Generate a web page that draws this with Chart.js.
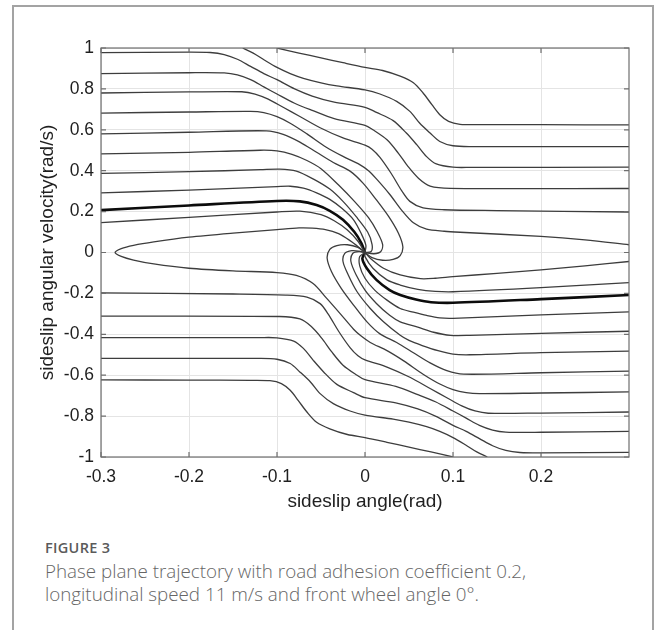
<!DOCTYPE html>
<html>
<head>
<meta charset="utf-8">
<script src="https://cdn.jsdelivr.net/npm/chart.js@4.4.1/dist/chart.umd.min.js"></script>
<style>
  body { margin: 0; background: #fff; width: 656px; height: 630px; overflow: hidden; position: relative; }
  .frame { position: absolute; left: 12px; top: 5px; width: 642px; height: 700px; border: 2px solid #a3a3a3; box-sizing: border-box; }
  #wrap { position: absolute; left: 0; top: 0; width: 656px; height: 530px; }
  .fig-no { position: absolute; left: 45px; top: 538px; font: 600 14.5px "Open Sans", sans-serif; color: #5a5a5a; letter-spacing: 0.3px; }
  .fig-cap { position: absolute; left: 45px; top: 560px; font: 300 18.8px "Open Sans", sans-serif; color: #666; line-height: 23px; white-space: nowrap; }
</style>
</head>
<body>
<div class="frame"></div>
<div id="wrap"><canvas id="phaseChart" width="656" height="530"></canvas></div>
<div class="fig-no">FIGURE 3</div>
<div class="fig-cap">Phase plane trajectory with road adhesion coefficient 0.2,<br>longitudinal speed 11 m/s and front wheel angle 0°.</div>
<script>
// ticks
const xTicks = [-0.3, -0.2, -0.1, 0, 0.1, 0.2];
const xTickLabels = ['-0.3', '-0.2', '-0.1', '0', '0.1', '0.2'];
const yTicks = [-1, -0.8, -0.6, -0.4, -0.2, 0, 0.2, 0.4, 0.6, 0.8, 1];
const yTickLabels = ['-1', '-0.8', '-0.6', '-0.4', '-0.2', '0', '0.2', '0.4', '0.6', '0.8', '1'];

// trayectorias [beta, r] - mitad superior
const trajU1 = [[-0.1,1.0],[-0.075,0.975],[-0.05,0.952],[-0.025,0.928],[0,0.905],[0.02,0.89],[0.04,0.862],[0.055,0.83],[0.066,0.78],[0.076,0.723],[0.085,0.674],[0.095,0.641],[0.108,0.627],[0.13,0.625],[0.2,0.625],[0.3,0.624]];
const trajU2 = [[-0.139,1.0],[-0.127,0.975],[-0.114,0.94],[-0.1,0.905],[-0.085,0.875],[-0.07,0.852],[-0.05,0.83],[-0.032,0.815],[0,0.795],[0.017,0.775],[0.036,0.739],[0.051,0.69],[0.062,0.633],[0.074,0.584],[0.085,0.543],[0.1,0.522],[0.12,0.518],[0.3,0.518]];
const trajU3 = [[-0.3,0.977],[-0.2,0.98],[-0.176,0.978],[-0.16,0.968],[-0.145,0.945],[-0.13,0.91],[-0.115,0.875],[-0.1,0.845],[-0.08,0.8],[-0.06,0.765],[-0.035,0.735],[0,0.71],[0.013,0.685],[0.032,0.645],[0.047,0.584],[0.059,0.526],[0.07,0.469],[0.081,0.433],[0.1,0.417],[0.12,0.416],[0.3,0.417]];
const trajU4 = [[-0.3,0.875],[-0.2,0.879],[-0.16,0.878],[-0.145,0.868],[-0.13,0.845],[-0.115,0.81],[-0.1,0.775],[-0.08,0.73],[-0.06,0.695],[-0.035,0.655],[0,0.622],[0.009,0.6],[0.025,0.551],[0.038,0.485],[0.049,0.42],[0.061,0.362],[0.074,0.325],[0.097,0.314],[0.3,0.313]];
const trajU5 = [[-0.3,0.78],[-0.2,0.785],[-0.14,0.786],[-0.125,0.775],[-0.11,0.75],[-0.093,0.71],[-0.074,0.665],[-0.051,0.61],[-0.025,0.56],[0,0.525],[0.008,0.505],[0.017,0.465],[0.03,0.385],[0.042,0.3],[0.051,0.25],[0.066,0.218],[0.09,0.209],[0.15,0.205],[0.3,0.198]];
const trajU6 = [[-0.3,0.682],[-0.2,0.687],[-0.13,0.69],[-0.115,0.684],[-0.1,0.664],[-0.085,0.632],[-0.066,0.58],[-0.044,0.515],[-0.025,0.47],[-0.006,0.43],[0.004,0.4],[0.013,0.36],[0.028,0.285],[0.042,0.205],[0.055,0.145],[0.07,0.114],[0.09,0.104],[0.108,0.099],[0.2,0.079],[0.25,0.062],[0.3,0.038]];
const trajU7 = [[-0.3,0.58],[-0.2,0.588],[-0.112,0.595],[-0.093,0.578],[-0.074,0.54],[-0.055,0.49],[-0.036,0.44],[-0.017,0.398],[-0.002,0.338],[0.013,0.257],[0.027,0.175],[0.038,0.094],[0.043,0.028],[0.04,-0.015],[0.032,-0.034],[0.02,-0.038],[0.008,-0.025],[0,0]];
const trajU8 = [[-0.3,0.482],[-0.2,0.49],[-0.119,0.5],[-0.1,0.497],[-0.083,0.48],[-0.066,0.45],[-0.05,0.41],[-0.03,0.33],[-0.012,0.25],[0.004,0.17],[0.014,0.1],[0.02,0.04],[0.018,0.005],[0.01,-0.006],[0,0]];
const trajU9 = [[-0.3,0.387],[-0.2,0.395],[-0.119,0.405],[-0.097,0.408],[-0.078,0.398],[-0.059,0.36],[-0.04,0.31],[-0.025,0.25],[-0.01,0.175],[0.003,0.1],[0.008,0.04],[0.007,0.005],[0,0]];
const trajU10 = [[-0.3,0.292],[-0.2,0.305],[-0.1,0.322],[-0.085,0.324],[-0.07,0.315],[-0.055,0.292],[-0.04,0.26],[-0.026,0.215],[-0.013,0.16],[-0.004,0.09],[0.001,0.035],[0,0]];
const trajU11 = [[-0.3,0.207],[-0.2,0.23],[-0.1,0.252],[-0.074,0.25],[-0.055,0.232],[-0.04,0.204],[-0.025,0.16],[-0.012,0.1],[-0.004,0.045],[0,0]];
const trajU12 = [[-0.3,0.146],[-0.2,0.172],[-0.1,0.198],[-0.074,0.202],[-0.05,0.185],[-0.035,0.155],[-0.02,0.11],[-0.008,0.055],[0,0]];

// mitad inferior
const trajL1 = [[0.1,-1.0],[0.075,-0.975],[0.05,-0.952],[0.025,-0.928],[0,-0.905],[-0.02,-0.89],[-0.04,-0.862],[-0.055,-0.83],[-0.066,-0.78],[-0.076,-0.723],[-0.085,-0.674],[-0.095,-0.641],[-0.108,-0.627],[-0.13,-0.625],[-0.2,-0.624],[-0.3,-0.623]];
const trajL2 = [[0.139,-1.0],[0.127,-0.975],[0.114,-0.94],[0.1,-0.905],[0.085,-0.875],[0.07,-0.852],[0.05,-0.83],[0.032,-0.815],[0,-0.795],[-0.017,-0.775],[-0.036,-0.739],[-0.051,-0.69],[-0.062,-0.633],[-0.074,-0.584],[-0.085,-0.543],[-0.1,-0.522],[-0.12,-0.518],[-0.3,-0.518]];
const trajL3 = [[0.3,-0.977],[0.2,-0.98],[0.176,-0.978],[0.16,-0.968],[0.145,-0.945],[0.13,-0.91],[0.115,-0.875],[0.1,-0.845],[0.08,-0.8],[0.06,-0.765],[0.035,-0.735],[0,-0.71],[-0.013,-0.685],[-0.032,-0.645],[-0.047,-0.584],[-0.059,-0.526],[-0.07,-0.469],[-0.081,-0.433],[-0.1,-0.417],[-0.12,-0.416],[-0.3,-0.416]];
const trajL4 = [[0.3,-0.875],[0.2,-0.879],[0.16,-0.878],[0.145,-0.868],[0.13,-0.845],[0.115,-0.81],[0.1,-0.775],[0.08,-0.73],[0.06,-0.695],[0.035,-0.655],[0,-0.622],[-0.009,-0.6],[-0.025,-0.551],[-0.038,-0.485],[-0.049,-0.42],[-0.061,-0.362],[-0.074,-0.325],[-0.097,-0.313],[-0.3,-0.311]];
const trajL5 = [[0.3,-0.78],[0.2,-0.785],[0.14,-0.786],[0.125,-0.775],[0.11,-0.75],[0.093,-0.71],[0.074,-0.665],[0.051,-0.61],[0.025,-0.56],[0,-0.525],[-0.008,-0.505],[-0.017,-0.465],[-0.03,-0.385],[-0.042,-0.3],[-0.051,-0.25],[-0.066,-0.218],[-0.09,-0.208],[-0.15,-0.203],[-0.3,-0.197]];
// L6 sigue hasta el lazo de la izquierda y entra al origen
const trajLoop = [[0.3,-0.682],[0.2,-0.687],[0.13,-0.69],[0.115,-0.685],[0.1,-0.67],[0.085,-0.643],[0.066,-0.595],[0.044,-0.53],[0.025,-0.48],[0.006,-0.44],[-0.004,-0.41],[-0.013,-0.375],[-0.028,-0.3],[-0.044,-0.222],[-0.059,-0.152],[-0.078,-0.112],[-0.1,-0.098],[-0.15,-0.09],[-0.2,-0.077],[-0.24,-0.056],[-0.263,-0.037],[-0.277,-0.019],[-0.284,0],[-0.277,0.019],[-0.263,0.035],[-0.24,0.052],[-0.2,0.075],[-0.15,0.095],[-0.1,0.112],[-0.075,0.12],[-0.06,0.119],[-0.045,0.112],[-0.03,0.092],[-0.017,0.058],[-0.006,0.022],[0,0]];
const trajL7 = [[0.3,-0.58],[0.2,-0.588],[0.112,-0.595],[0.093,-0.578],[0.074,-0.54],[0.055,-0.49],[0.036,-0.44],[0.017,-0.398],[0.002,-0.338],[-0.013,-0.257],[-0.027,-0.175],[-0.038,-0.094],[-0.043,-0.028],[-0.04,0.015],[-0.032,0.034],[-0.02,0.038],[-0.008,0.025],[0,0]];
const trajL8 = [[0.3,-0.482],[0.2,-0.49],[0.119,-0.5],[0.1,-0.497],[0.083,-0.48],[0.065,-0.455],[0.05,-0.43],[0.04,-0.405],[0.021,-0.339],[0.006,-0.274],[-0.009,-0.192],[-0.019,-0.11],[-0.025,-0.044],[-0.023,-0.004],[-0.015,0.009],[-0.007,0.007],[0,0]];
const trajL9 = [[0.3,-0.385],[0.2,-0.395],[0.119,-0.405],[0.097,-0.405],[0.078,-0.39],[0.06,-0.365],[0.04,-0.339],[0.028,-0.307],[0.013,-0.249],[0,-0.184],[-0.01,-0.11],[-0.016,-0.044],[-0.014,-0.005],[-0.007,0.004],[0,0]];
const trajL10 = [[0.3,-0.29],[0.2,-0.305],[0.1,-0.322],[0.085,-0.32],[0.07,-0.308],[0.055,-0.292],[0.04,-0.274],[0.025,-0.233],[0.011,-0.184],[0,-0.126],[-0.006,-0.065],[-0.006,-0.02],[0,0]];
const trajL11 = [[0.3,-0.208],[0.2,-0.228],[0.1,-0.246],[0.075,-0.243],[0.058,-0.23],[0.04,-0.208],[0.028,-0.184],[0.013,-0.134],[0.002,-0.077],[-0.003,-0.03],[0,0]];
const trajL12 = [[0.3,-0.147],[0.2,-0.172],[0.1,-0.192],[0.08,-0.19],[0.06,-0.18],[0.04,-0.159],[0.025,-0.134],[0.009,-0.077],[0,-0.02],[0,0]];
const trajL13 = [[0.3,-0.044],[0.25,-0.065],[0.2,-0.085],[0.15,-0.102],[0.1,-0.118],[0.08,-0.126],[0.063,-0.128],[0.04,-0.11],[0.021,-0.077],[0.006,-0.028],[0,0]];

const thinCurves = [trajU1, trajU2, trajU3, trajU4, trajU5, trajU6, trajU7, trajU8, trajU9, trajU10, trajU12,
                    trajL1, trajL2, trajL3, trajL4, trajL5, trajLoop, trajL7, trajL8, trajL9, trajL10, trajL12, trajL13];
const thickCurves = [trajU11, trajL11];

const axisFont = { family: '"Liberation Sans", Arial, sans-serif', size: 17.5 };
const titleFont = { family: '"Liberation Sans", Arial, sans-serif', size: 19 };

function toDataset(points, thick) {
    return {
        data: points.map(p => ({ x: p[0], y: p[1] })),
        showLine: true,
        borderColor: thick ? '#0c0c0c' : '#3d3d3d',
        borderWidth: thick ? 2.6 : 1.3,
        pointRadius: 0,
        tension: 0.3,
        fill: false
    };
}

//caja estilo matlab con marcas hacia adentro
const axisBox = {
    id: 'axisBox',
    afterDraw(chart) {
        const { ctx, chartArea: a, scales: { x, y } } = chart;
        ctx.save();
        ctx.strokeStyle = '#6f6f6f';
        ctx.lineWidth = 1.2;
        ctx.beginPath();
        xTicks.forEach(v => {
            const px = x.getPixelForValue(v);
            ctx.moveTo(px, a.bottom); ctx.lineTo(px, a.bottom - 5);
            ctx.moveTo(px, a.top); ctx.lineTo(px, a.top + 5);
        });
        yTicks.forEach(v => {
            const py = y.getPixelForValue(v);
            ctx.moveTo(a.left, py); ctx.lineTo(a.left + 5, py);
            ctx.moveTo(a.right, py); ctx.lineTo(a.right - 5, py);
        });
        ctx.stroke();
        ctx.strokeRect(a.left, a.top, a.right - a.left, a.bottom - a.top);
        ctx.restore();
    }
};

const ctx = document.getElementById('phaseChart');
new Chart(ctx, {
    type: 'scatter',
    data: {
        datasets: thinCurves.map(c => toDataset(c, false)).concat(thickCurves.map(c => toDataset(c, true)))
    },
    options: {
        responsive: false,
        animation: false,
        devicePixelRatio: 1,
        layout: { padding: { left: 0, right: 27, top: 48, bottom: 0 } },
        plugins: { legend: { display: false }, tooltip: { enabled: false } },
        scales: {
            x: {
                type: 'linear',
                min: -0.3,
                max: 0.3,
                afterBuildTicks: scale => { scale.ticks = xTicks.map(v => ({ value: v })); },
                afterFit: scale => { scale.height = 73; },
                grid: { color: '#e4e4e4', drawTicks: false },
                border: { display: false },
                ticks: {
                    font: axisFont,
                    color: '#1f1f1f',
                    padding: 10,
                    autoSkip: false,
                    maxRotation: 0,
                    callback: value => {
                        const i = xTicks.findIndex(t => Math.abs(t - value) < 1e-9);
                        return i >= 0 ? xTickLabels[i] : '';
                    }
                },
                title: {
                    display: true,
                    text: 'sideslip angle(rad)',
                    font: titleFont,
                    color: '#1f1f1f',
                    padding: { top: 0, bottom: 17 }
                }
            },
            y: {
                type: 'linear',
                min: -1,
                max: 1,
                afterBuildTicks: scale => { scale.ticks = yTicks.map(v => ({ value: v })); },
                afterFit: scale => { scale.width = 101; },
                grid: { color: '#e4e4e4', drawTicks: false },
                border: { display: false },
                ticks: {
                    font: axisFont,
                    color: '#1f1f1f',
                    padding: 7,
                    autoSkip: false,
                    callback: value => {
                        const i = yTicks.findIndex(t => Math.abs(t - value) < 1e-9);
                        return i >= 0 ? yTickLabels[i] : '';
                    }
                },
                title: {
                    display: true,
                    text: 'sideslip angular velocity(rad/s)',
                    font: titleFont,
                    color: '#1f1f1f',
                    padding: { top: 36, bottom: 0 }
                }
            }
        }
    },
    plugins: [axisBox]
});
</script>
</body>
</html>
